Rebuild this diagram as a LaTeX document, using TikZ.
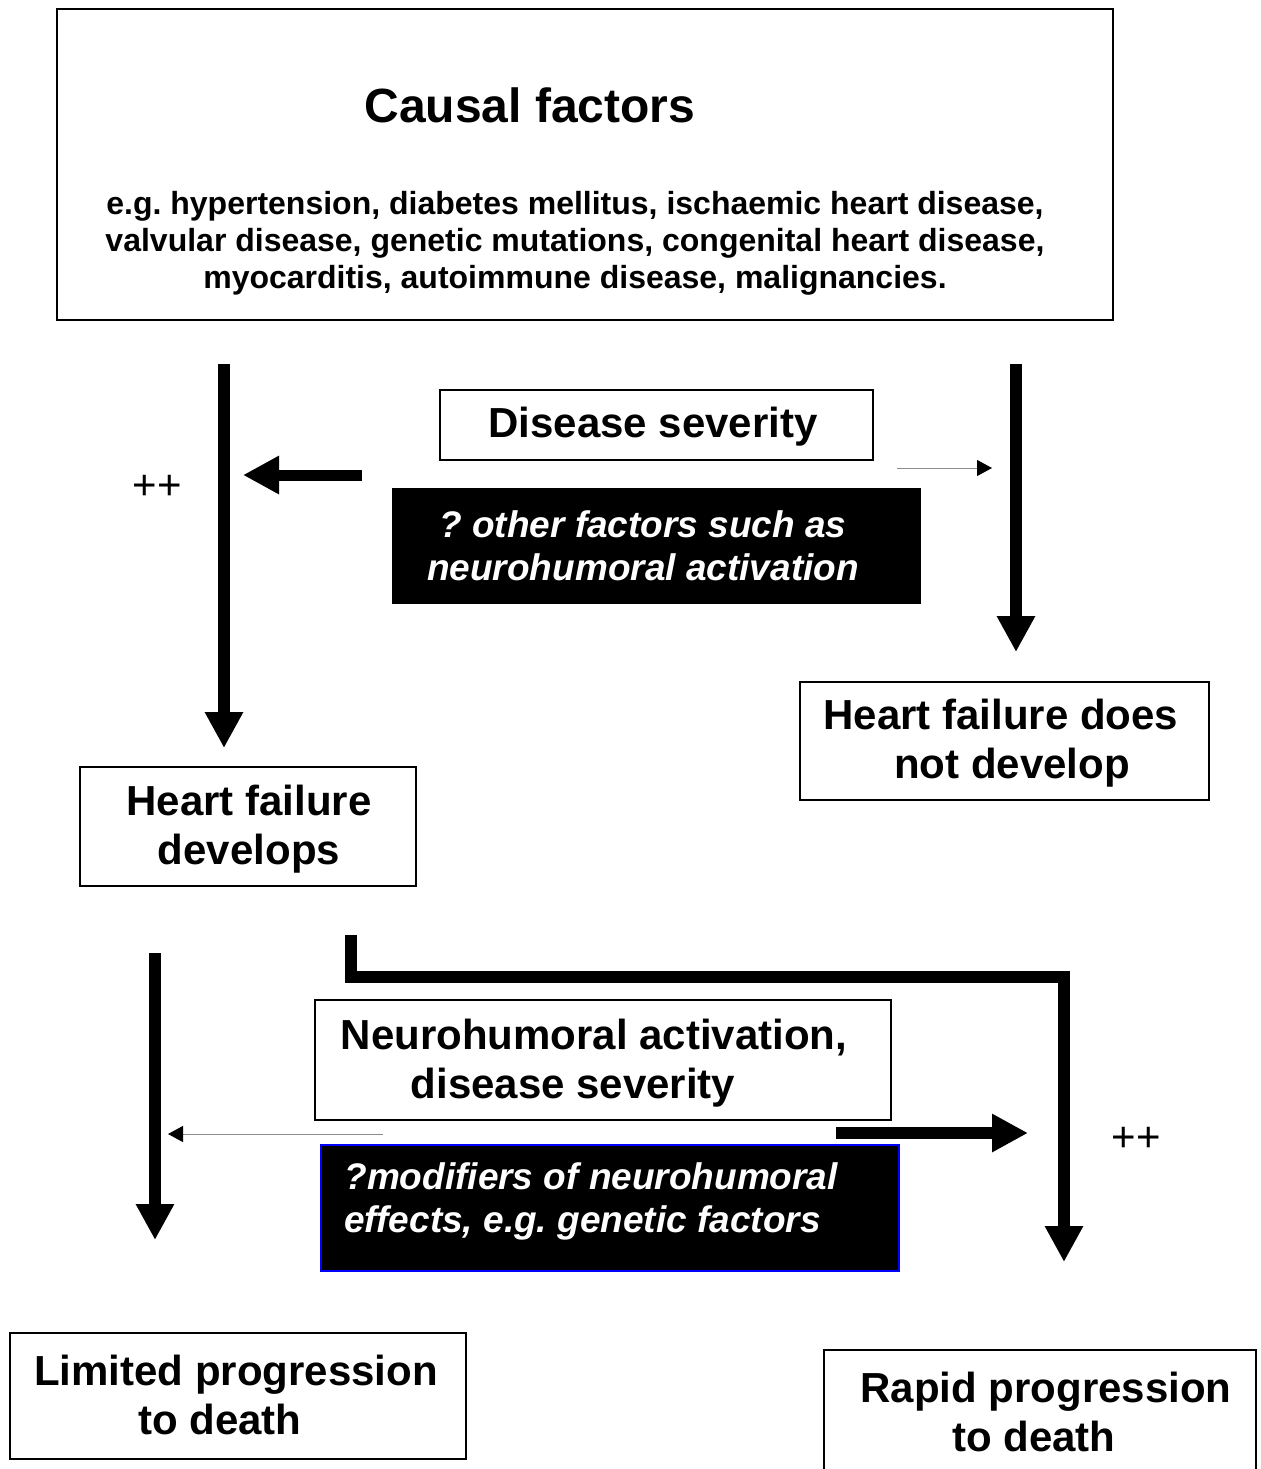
\documentclass[tikz,border=0pt]{standalone}
\usepackage{fontspec}
\setmainfont{Liberation Sans}
\usetikzlibrary{arrows.meta, positioning}
\frenchspacing
\tikzset{%
    box/.style={%
        rectangle,
        draw=black, line width=0.75pt,
        inner sep=0pt,
    },
    darkbox/.style={%
        rectangle,
        fill=black,
        inner sep=0pt,
    },
    boxtext/.style={%
        align=center,
        font=\bfseries\fontsize{21}{24.5}\selectfont,
        inner sep=0pt,
    },
    darktext/.style={%
        align=center,
        text=white,
        font=\bfseries\itshape\fontsize{18.5}{21.5}\selectfont,
        inner sep=0pt,
    },
    flow/.style={%
        line width=6pt,
        -{Triangle[length=18pt, width=18pt]},
    },
    faint/.style={%
        draw=black!45, line width=0.5pt,
        -{Triangle[length=7.5pt, width=8pt, color=black]},
    },
    pluslabel/.style={%
        font=\fontsize{21}{24}\selectfont,
        inner sep=0pt,
    }
}
\begin{document}
\begin{tikzpicture}[x=0.5pt, y=-0.5pt]
  \useasboundingbox (0,0) rectangle (1261,1469);

  % boxes
  \node [box, minimum width=528pt, minimum height=155.5pt] at (585,164.5) (causal) {};
  \node [boxtext, font=\bfseries\fontsize{24}{28.8}\selectfont] at (530,105) (causal_title) {Causal factors};
  \node [boxtext, font=\bfseries\fontsize{16}{18.5}\selectfont] at (575,243) (causal_list)
    {e.g. hypertension, diabetes mellitus, ischaemic heart disease,\\
     valvular disease, genetic mutations, congenital heart disease,\\
     myocarditis, autoimmune disease, malignancies.};

  \node [box, minimum width=216.5pt, minimum height=35pt] at (656.5,425) (severity) {};
  \node [boxtext] at (653,427) (severity_txt) {Disease severity};

  \node [darkbox, minimum width=264.5pt, minimum height=58pt] at (656.5,546) (other) {};
  \node [darktext] at (643,545.5) (other_txt) {? other factors such as\\neurohumoral activation};

  \node [box, minimum width=204.5pt, minimum height=59pt] at (1004.5,741) (no_hf) {};
  \node [boxtext] at (1001,743.5) (no_hf_txt) {Heart failure does\\\hspace*{11pt}not develop};

  \node [box, minimum width=168pt, minimum height=59.5pt] at (248,826.5) (hf) {};
  \node [boxtext] at (249,829.5) (hf_txt) {Heart failure\\develops};

  \node [box, minimum width=288pt, minimum height=60pt] at (603,1060) (neuro) {};
  \node [boxtext] at (594,1063.5) (neuro_txt) {Neurohumoral activation,\\disease severity\hspace*{21pt}};

  \node [darkbox, draw=blue, line width=1pt, minimum width=289pt, minimum height=63pt] at (610,1208) (modifiers) {};
  \node [darktext, align=left, anchor=west] at (344,1201) (modifiers_txt) {?modifiers of neurohumoral\\effects, e.g. genetic factors};

  \node [box, minimum width=228pt, minimum height=63pt] at (238,1396) (limited) {};
  \node [boxtext] at (236,1394.5) (limited_txt) {Limited progression\\to death\hspace*{16pt}};

  \node [box, minimum width=216pt, minimum height=65pt] at (1040,1415) (rapid) {};
  \node [boxtext] at (1046,1412) (rapid_txt) {Rapid progression\\to death\hspace*{12pt}};

  \node [pluslabel] at (157,487) (plus_hf) {++};
  \node [pluslabel] at (1136,1139) (plus_rapid) {++};

  % arrow ends
  \coordinate (hf_from) at (224,364);
  \coordinate (hf_to) at (224,748);
  \coordinate (no_hf_from) at (1016,364);
  \coordinate (no_hf_to) at (1016,652);
  \coordinate (push_from) at (362,475);
  \coordinate (push_to) at (243,475);
  \coordinate (weak_from) at (897,468);
  \coordinate (weak_to) at (992,468);
  \coordinate (slow_from) at (155,953);
  \coordinate (slow_to) at (155,1240);
  \coordinate (fast_from) at (351,935);
  \coordinate (fast_turn) at (1064,977);
  \coordinate (fast_to) at (1064,1262);
  \coordinate (weak2_from) at (383,1134);
  \coordinate (weak2_to) at (168,1134);
  \coordinate (push2_from) at (836,1133);
  \coordinate (push2_to) at (1028,1133);

  \draw[flow] (hf_from) -- (hf_to);
  \draw[flow] (no_hf_from) -- (no_hf_to);
  \draw[flow, line width=5.5pt] (push_from) -- (push_to);
  \draw[faint] (weak_from) -- (weak_to);

  \draw[flow] (slow_from) -- (slow_to);
  \draw[flow, line join=miter] (fast_from) |- (fast_turn) -- (fast_to);
  \draw[faint] (weak2_from) -- (weak2_to);
  \draw[flow] (push2_from) -- (push2_to);
\end{tikzpicture}
\end{document}
